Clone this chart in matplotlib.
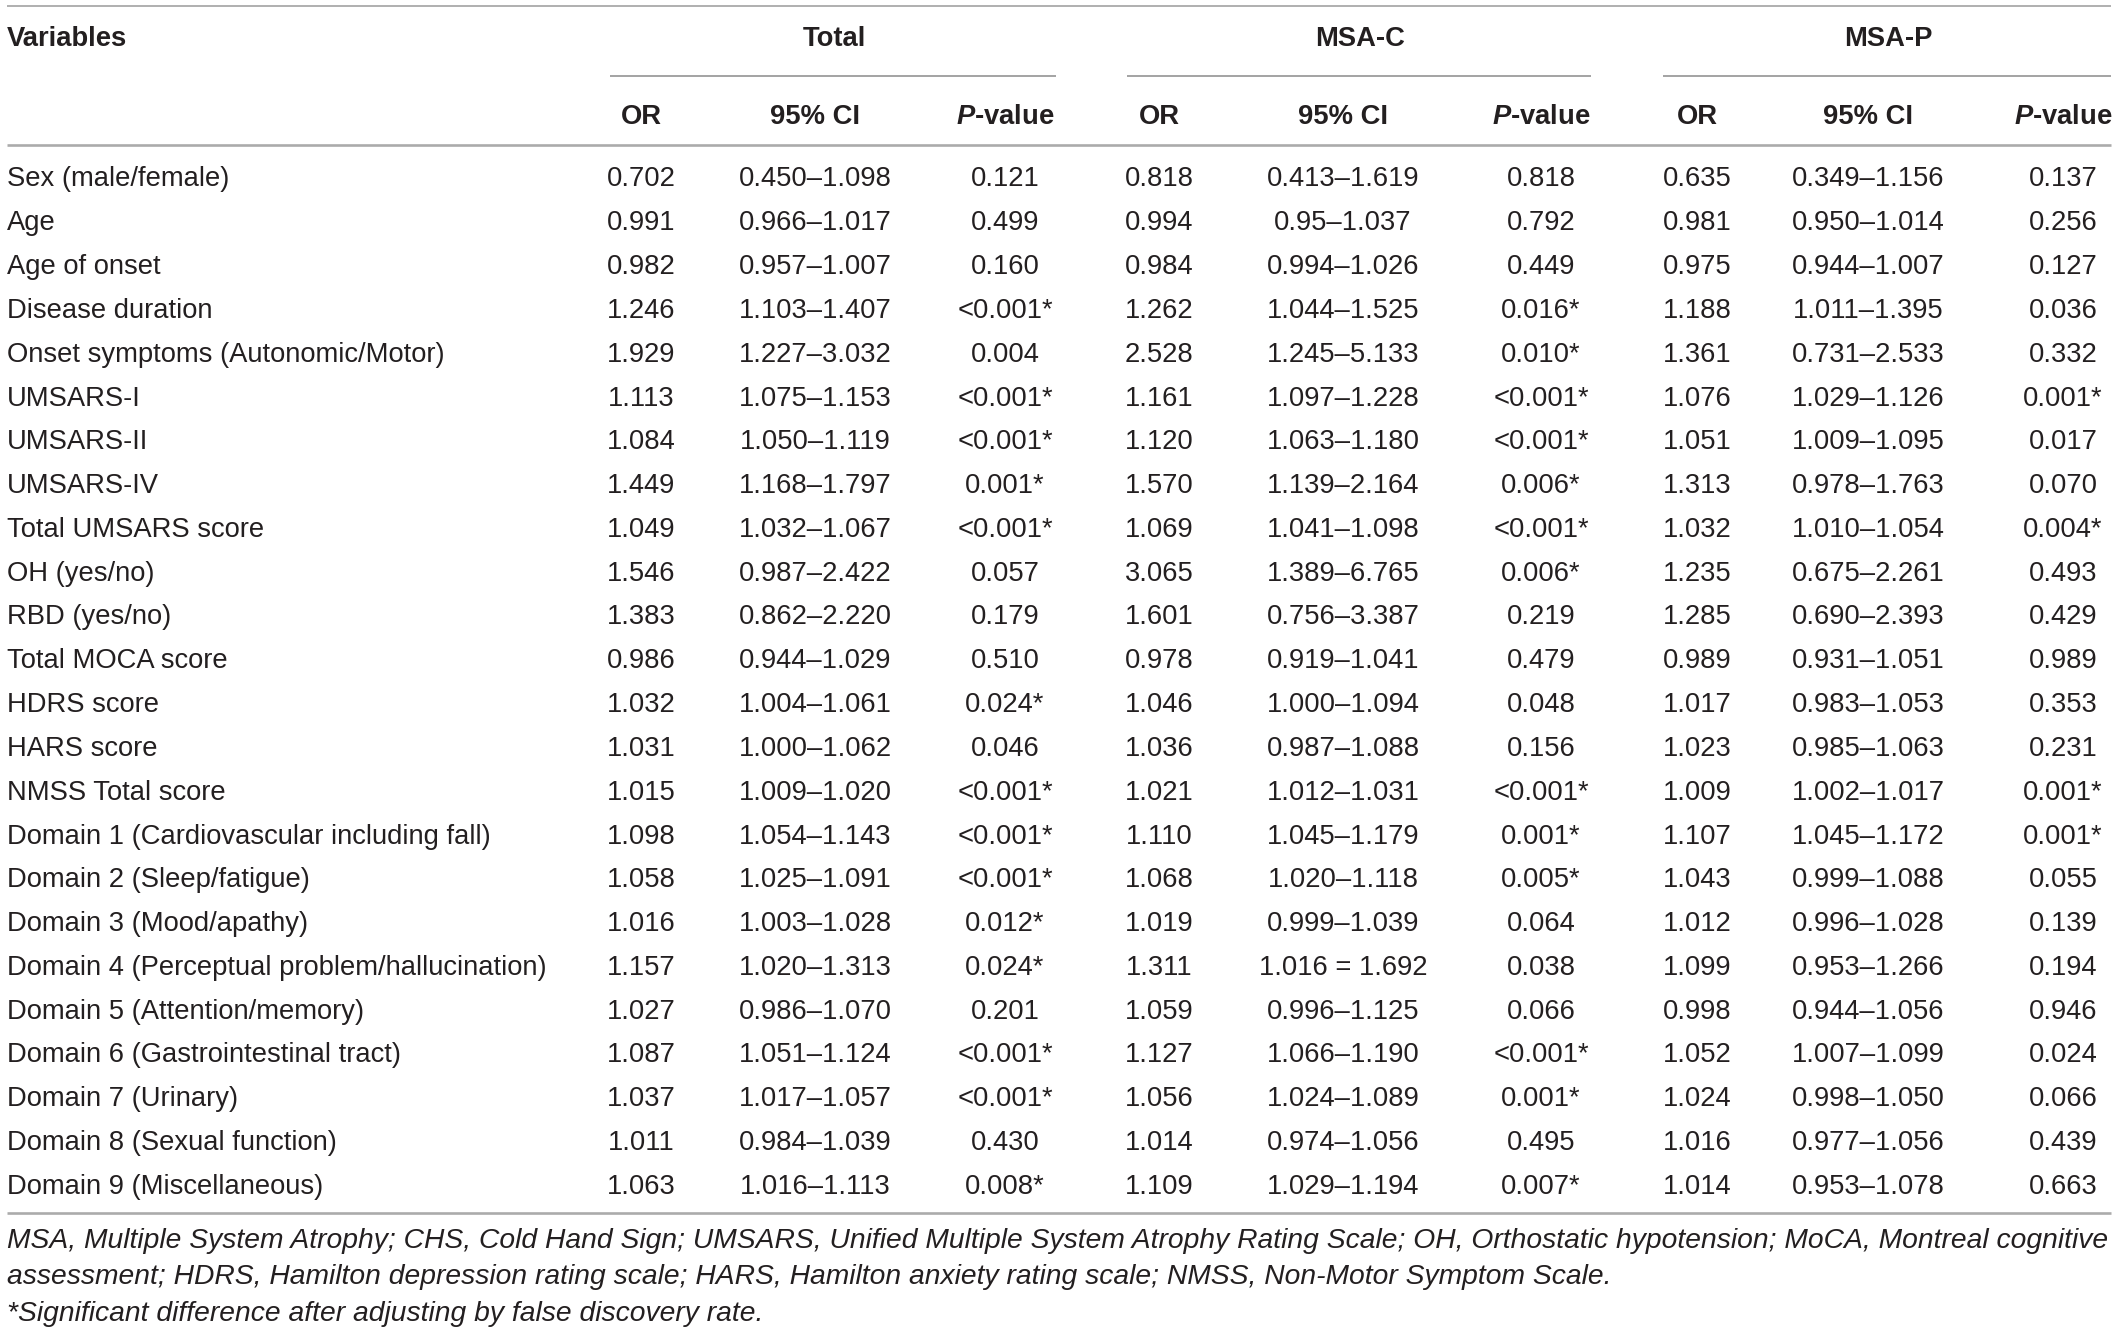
import matplotlib
matplotlib.use("Agg")
import matplotlib.pyplot as plt

plt.rcParams['font.family'] = ['Liberation Sans', 'DejaVu Sans']

# ---- table data ----
variables = [
    "Sex (male/female)", "Age", "Age of onset", "Disease duration",
    "Onset symptoms (Autonomic/Motor)", "UMSARS-I", "UMSARS-II", "UMSARS-IV",
    "Total UMSARS score", "OH (yes/no)", "RBD (yes/no)", "Total MOCA score",
    "HDRS score", "HARS score", "NMSS Total score",
    "Domain 1 (Cardiovascular including fall)", "Domain 2 (Sleep/fatigue)",
    "Domain 3 (Mood/apathy)", "Domain 4 (Perceptual problem/hallucination)",
    "Domain 5 (Attention/memory)", "Domain 6 (Gastrointestinal tract)",
    "Domain 7 (Urinary)", "Domain 8 (Sexual function)", "Domain 9 (Miscellaneous)",
]

total_or = ["0.702", "0.991", "0.982", "1.246", "1.929", "1.113", "1.084", "1.449",
            "1.049", "1.546", "1.383", "0.986", "1.032", "1.031", "1.015", "1.098",
            "1.058", "1.016", "1.157", "1.027", "1.087", "1.037", "1.011", "1.063"]
total_ci = ["0.450–1.098", "0.966–1.017", "0.957–1.007", "1.103–1.407", "1.227–3.032",
            "1.075–1.153", "1.050–1.119", "1.168–1.797", "1.032–1.067", "0.987–2.422",
            "0.862–2.220", "0.944–1.029", "1.004–1.061", "1.000–1.062", "1.009–1.020",
            "1.054–1.143", "1.025–1.091", "1.003–1.028", "1.020–1.313", "0.986–1.070",
            "1.051–1.124", "1.017–1.057", "0.984–1.039", "1.016–1.113"]
total_p = ["0.121", "0.499", "0.160", "<0.001*", "0.004", "<0.001*", "<0.001*", "0.001*",
           "<0.001*", "0.057", "0.179", "0.510", "0.024*", "0.046", "<0.001*", "<0.001*",
           "<0.001*", "0.012*", "0.024*", "0.201", "<0.001*", "<0.001*", "0.430", "0.008*"]

msac_or = ["0.818", "0.994", "0.984", "1.262", "2.528", "1.161", "1.120", "1.570",
           "1.069", "3.065", "1.601", "0.978", "1.046", "1.036", "1.021", "1.110",
           "1.068", "1.019", "1.311", "1.059", "1.127", "1.056", "1.014", "1.109"]
msac_ci = ["0.413–1.619", "0.95–1.037", "0.994–1.026", "1.044–1.525", "1.245–5.133",
           "1.097–1.228", "1.063–1.180", "1.139–2.164", "1.041–1.098", "1.389–6.765",
           "0.756–3.387", "0.919–1.041", "1.000–1.094", "0.987–1.088", "1.012–1.031",
           "1.045–1.179", "1.020–1.118", "0.999–1.039", "1.016 = 1.692", "0.996–1.125",
           "1.066–1.190", "1.024–1.089", "0.974–1.056", "1.029–1.194"]
msac_p = ["0.818", "0.792", "0.449", "0.016*", "0.010*", "<0.001*", "<0.001*", "0.006*",
          "<0.001*", "0.006*", "0.219", "0.479", "0.048", "0.156", "<0.001*", "0.001*",
          "0.005*", "0.064", "0.038", "0.066", "<0.001*", "0.001*", "0.495", "0.007*"]

msap_or = ["0.635", "0.981", "0.975", "1.188", "1.361", "1.076", "1.051", "1.313",
           "1.032", "1.235", "1.285", "0.989", "1.017", "1.023", "1.009", "1.107",
           "1.043", "1.012", "1.099", "0.998", "1.052", "1.024", "1.016", "1.014"]
msap_ci = ["0.349–1.156", "0.950–1.014", "0.944–1.007", "1.011–1.395", "0.731–2.533",
           "1.029–1.126", "1.009–1.095", "0.978–1.763", "1.010–1.054", "0.675–2.261",
           "0.690–2.393", "0.931–1.051", "0.983–1.053", "0.985–1.063", "1.002–1.017",
           "1.045–1.172", "0.999–1.088", "0.996–1.028", "0.953–1.266", "0.944–1.056",
           "1.007–1.099", "0.998–1.050", "0.977–1.056", "0.953–1.078"]
msap_p = ["0.137", "0.256", "0.127", "0.036", "0.332", "0.001*", "0.017", "0.070",
          "0.004*", "0.493", "0.429", "0.989", "0.353", "0.231", "0.001*", "0.001*",
          "0.055", "0.139", "0.194", "0.946", "0.024", "0.066", "0.439", "0.663"]

groups = ["Total", "MSA-C", "MSA-P"]
subheads = ["OR", "95% CI", "$\\mathit{P}$-value"]
footnotes = [
    "MSA, Multiple System Atrophy; CHS, Cold Hand Sign; UMSARS, Unified Multiple System "
    "Atrophy Rating Scale; OH, Orthostatic hypotension; MoCA, Montreal cognitive",
    "assessment; HDRS, Hamilton depression rating scale; HARS, Hamilton anxiety rating "
    "scale; NMSS, Non-Motor Symptom Scale.",
    "*Significant difference after adjusting by false discovery rate.",
]

columns = [total_or, total_ci, total_p, msac_or, msac_ci, msac_p, msap_or, msap_ci, msap_p]

# ---- layout (pixel units) ----
W, H = 2118, 1334
TXT = '#231f20'
col_x = [641, 815, 1005, 1159, 1343, 1541, 1697, 1868, 2063]
group_x = [834, 1360, 1888]
group_lines = [(610, 1056), (1127, 1591), (1663, 2111)]
left, right = 7, 2111
row0, row_step = 186.5, 43.8

fig = plt.figure(figsize=(W / 100, H / 100), dpi=100)
ax = fig.add_axes([0, 0, 1, 1])
ax.set_xlim(0, W)
ax.set_ylim(H, 0)
ax.axis('off')
renderer = fig.canvas.get_renderer()


def fit_size(s, width, style='normal', base=20):
    t = ax.text(0, 0, s, fontsize=base, style=style)
    w = t.get_window_extent(renderer).width
    t.remove()
    return base * width / w


fs = fit_size("Onset symptoms (Autonomic/Motor)", 438)
fs_note = fit_size(footnotes[0], right - left, style='italic', base=17)

# rules
ax.plot([left, right], [6, 6], color='#9a9a9a', lw=1.1, solid_capstyle='butt')
for x0, x1 in group_lines:
    ax.plot([x0, x1], [76, 76], color='#8a8a8a', lw=1.1, solid_capstyle='butt')
ax.plot([left, right], [145, 145], color='#ababab', lw=1.9, solid_capstyle='butt')
ax.plot([left, right], [1213, 1213], color='#ababab', lw=1.9, solid_capstyle='butt')

# headers
ax.text(left, 46, "Variables", fontsize=fs, fontweight='bold', color=TXT, va='baseline')
for g, gx in zip(groups, group_x):
    ax.text(gx, 46, g, fontsize=fs, fontweight='bold', color=TXT, ha='center', va='baseline')
plt.rcParams['mathtext.fontset'] = 'custom'
plt.rcParams['mathtext.it'] = 'Liberation Sans:italic:bold'
for i, cx in enumerate(col_x):
    ax.text(cx, 124, subheads[i % 3], fontsize=fs, fontweight='bold', color=TXT,
            ha='center', va='baseline')

# body
for r, name in enumerate(variables):
    y = row0 + r * row_step
    ax.text(left, y, name, fontsize=fs, color=TXT, va='baseline')
    for cx, col in zip(col_x, columns):
        ax.text(cx, y, col[r], fontsize=fs, color=TXT, ha='center', va='baseline')

# footnotes
for k, note in enumerate(footnotes):
    ax.text(left, 1248 + k * 36.5, note, fontsize=fs_note, style='italic', color=TXT,
            va='baseline')

fig.savefig("out.png", dpi=100, facecolor='white')
